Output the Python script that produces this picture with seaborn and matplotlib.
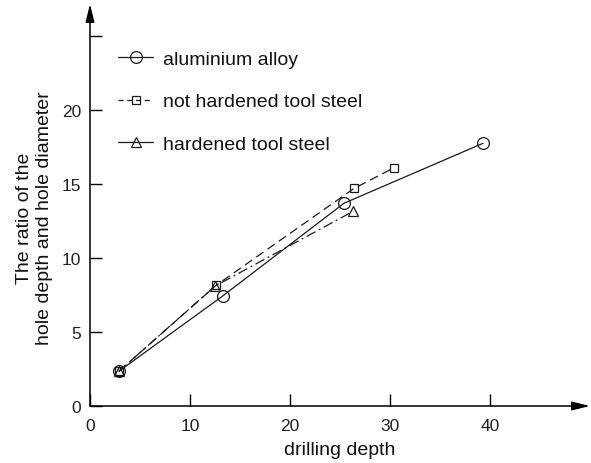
import matplotlib
matplotlib.use("Agg")
import matplotlib.pyplot as plt
import seaborn as sns
import pandas as pd
from matplotlib.lines import Line2D

# ---- data ----
alu_x = [2.9, 13.3, 25.4, 39.3]
alu_y = [2.35, 7.45, 13.7, 17.75]
soft_x = [2.9, 12.6, 26.4, 30.4]
soft_y = [2.35, 8.15, 14.7, 16.1]
hard_x = [2.9, 12.5, 26.3]
hard_y = [2.35, 8.1, 13.15]
series_names = ["aluminium alloy", "not hardened tool steel", "hardened tool steel"]
x_ticks = [0, 10, 20, 30, 40]
y_ticks = [0, 5, 10, 15, 20, 25]
y_tick_labels = ["0", "5", "10", "15", "20", ""]
x_label = "drilling depth"
y_label = "The ratio of the\nhole depth and hole diameter"

sns.set_theme(style="white")
plt.rcParams["font.family"] = ["Liberation Sans", "DejaVu Sans"]

fig = plt.figure(figsize=(5.91, 4.64), dpi=100)
ax = fig.add_axes([90 / 591, 57 / 464, 500 / 591, 402 / 464])

df_alu = pd.DataFrame({"x": alu_x, "y": alu_y})
df_soft = pd.DataFrame({"x": soft_x, "y": soft_y})
df_hard = pd.DataFrame({"x": hard_x, "y": hard_y})

lc = "#1a1a1a"
sns.lineplot(data=df_alu, x="x", y="y", ax=ax, color=lc, lw=0.9, marker="o",
             markersize=8.5, mfc="none", mec=lc, mew=0.9, estimator=None)
sns.lineplot(data=df_soft, x="x", y="y", ax=ax, color=lc, lw=0.9, marker="s",
             markersize=6, mfc="none", mec=lc, mew=0.9, estimator=None,
             linestyle=(0, (7, 4)))
sns.lineplot(data=df_hard, x="x", y="y", ax=ax, color=lc, lw=0.9, marker="^",
             markersize=7, mfc="none", mec=lc, mew=0.9, estimator=None,
             linestyle=(0, (8, 3, 1.5, 3)))

ax.set_xlim(0, 50)
ax.set_ylim(0, 402 / 14.8)
for s in ax.spines.values():
    s.set_visible(False)

# axis arrows
arrow = dict(arrowstyle="-|>,head_length=0.9,head_width=0.22", lw=1.1,
             color="black", shrinkA=0, shrinkB=0)
ax.annotate("", xy=(1.0, 0), xytext=(0, 0), xycoords="axes fraction",
            arrowprops=arrow, annotation_clip=False)
ax.annotate("", xy=(0, 1.0), xytext=(0, 0), xycoords="axes fraction",
            arrowprops=arrow, annotation_clip=False)

ax.set_xticks(x_ticks)
ax.set_xticklabels([str(v) for v in x_ticks])
ax.set_yticks(y_ticks)
ax.set_yticklabels(y_tick_labels)
ax.tick_params(axis="both", direction="in", length=8.5, width=1.0,
               color="black", labelcolor="#222222", labelsize=12.5)
ax.tick_params(axis="x", pad=9)
ax.tick_params(axis="y", pad=6.5)
ax.tick_params(bottom=True, left=True)
ax.grid(False)

ax.set_xlabel(x_label, fontsize=14, color="#111111")
ax.xaxis.set_label_coords(0.5, -0.088)
ax.set_ylabel(y_label, fontsize=14, color="#111111", linespacing=1.25)
ax.yaxis.set_label_coords(-0.074, 0.47)

handles = [
    Line2D([], [], color=lc, lw=0.9, marker="o", markersize=8.5, mfc="none", mec=lc, mew=0.9),
    Line2D([], [], color=lc, lw=0.9, marker="s", markersize=6, mfc="none", mec=lc, mew=0.9,
           linestyle=(0, (4, 3))),
    Line2D([], [], color=lc, lw=0.9, marker="^", markersize=7, mfc="none", mec=lc, mew=0.9),
]
leg = ax.legend(handles, series_names, loc="upper left", bbox_to_anchor=(0.056, 0.885),
                frameon=False, fontsize=14, handlelength=1.8, handletextpad=0.5,
                labelspacing=1.28, borderpad=0, borderaxespad=0)
for t in leg.get_texts():
    t.set_color("#111111")

fig.savefig("out.png", dpi=100)
